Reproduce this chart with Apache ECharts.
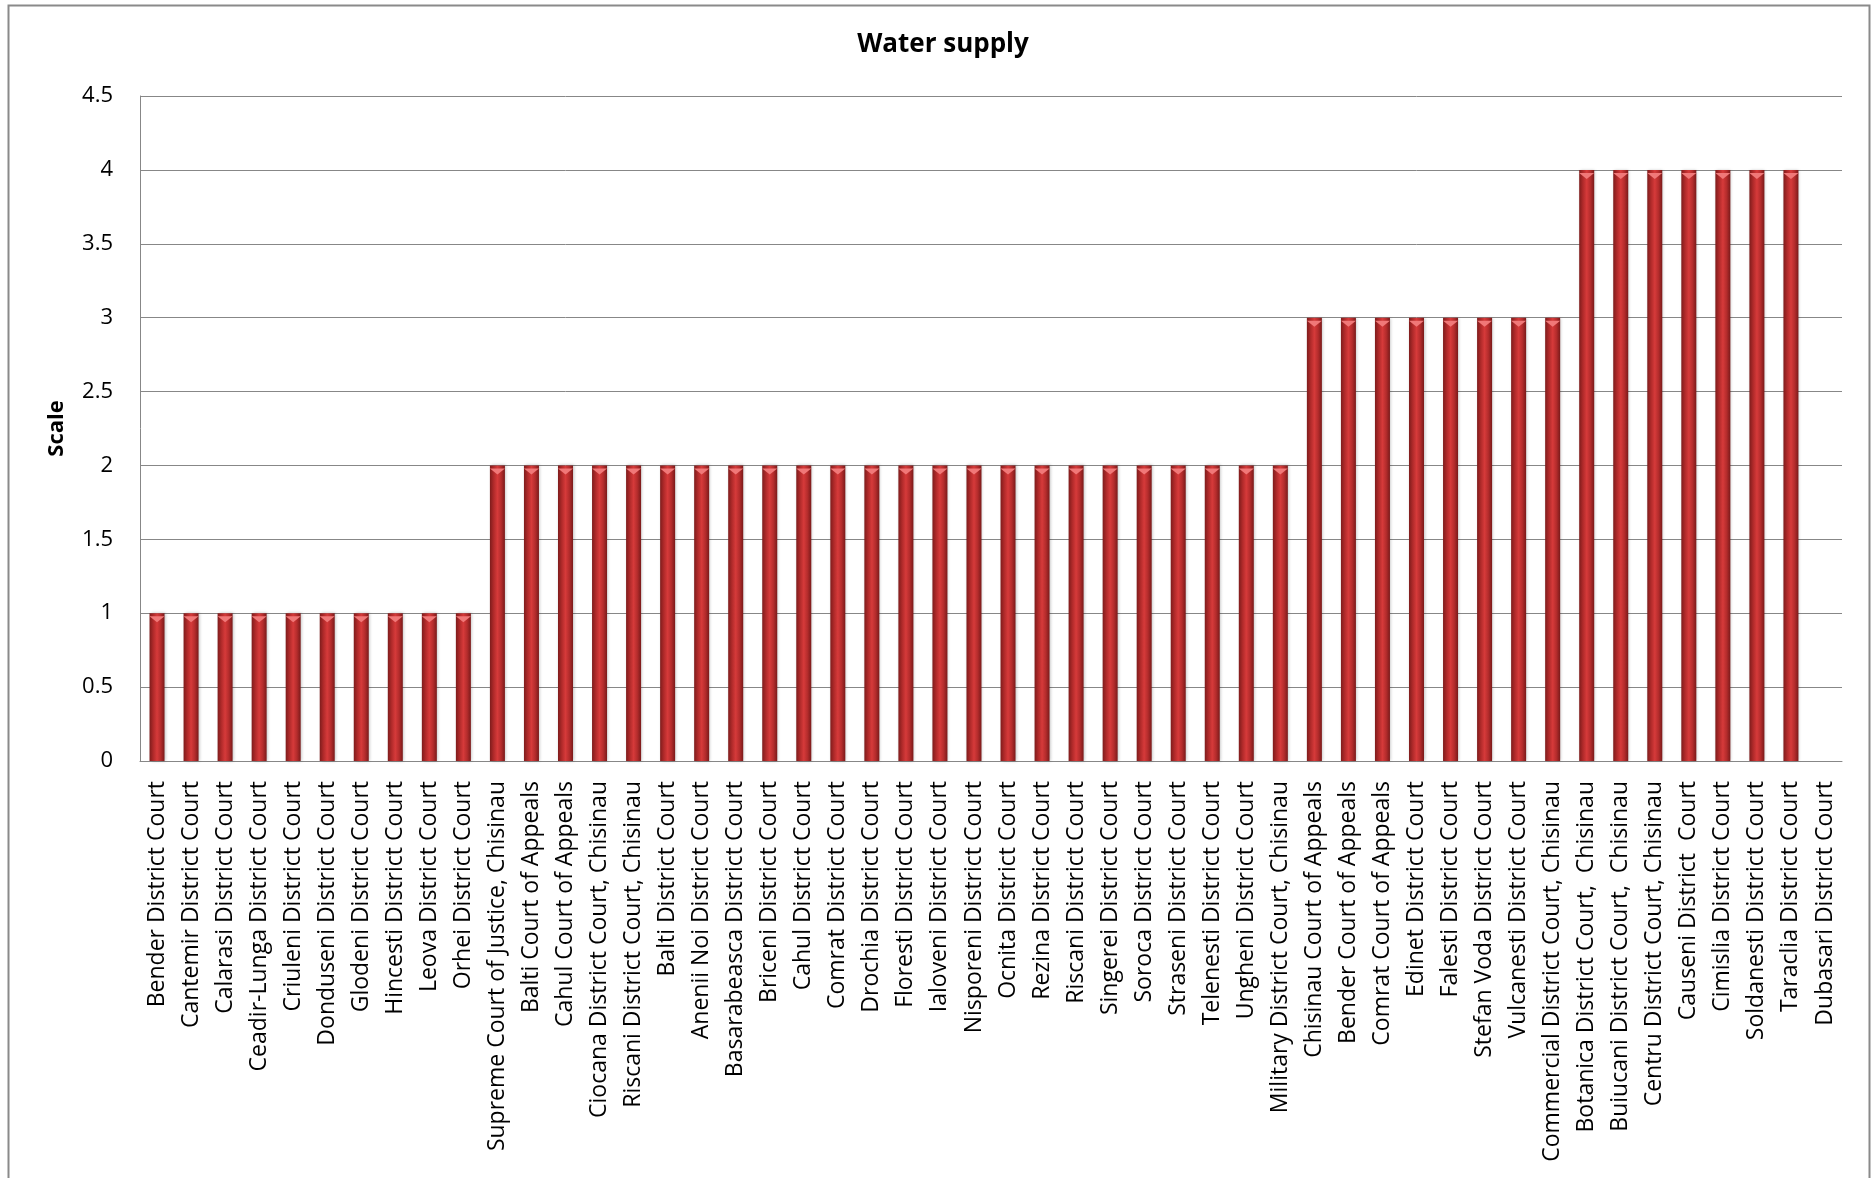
<!DOCTYPE html>
<html>
<head>
    <meta charset="UTF-8">
    <title>Water supply</title>
    <script src="https://cdn.jsdelivr.net/npm/echarts@6/dist/echarts.min.js"></script>
    <style>
        html, body { margin: 0; padding: 0; background: #fff; }
        #main { width: 1871px; height: 1178px; }
    </style>
</head>
<body>
    <div id="main"></div>
    <script type="text/javascript">
        // courts (x axis)
        var courts = [
            'Bender District Court', 'Cantemir District Court', 'Calarasi District Court',
            'Ceadir-Lunga District Court', 'Criuleni District Court', 'Donduseni District Court',
            'Glodeni District Court', 'Hincesti District Court', 'Leova District Court',
            'Orhei District Court', 'Supreme Court of Justice, Chisinau', 'Balti Court of Appeals',
            'Cahul Court of Appeals', 'Ciocana District Court, Chisinau', 'Riscani District Court, Chisinau',
            'Balti District Court', 'Anenii Noi District Court', 'Basarabeasca District Court',
            'Briceni District Court', 'Cahul District Court', 'Comrat District Court',
            'Drochia District Court', 'Floresti District Court', 'Ialoveni District Court',
            'Nisporeni District Court', 'Ocnita District Court', 'Rezina District Court',
            'Riscani District Court', 'Singerei District Court', 'Soroca District Court',
            'Straseni District Court', 'Telenesti District Court', 'Ungheni District Court',
            'Military District Court, Chisinau', 'Chisinau Court of Appeals', 'Bender Court of Appeals',
            'Comrat Court of Appeals', 'Edinet District Court', 'Falesti District Court',
            'Stefan Voda District Court', 'Vulcanesti District Court', 'Commercial District Court, Chisinau',
            'Botanica District Court,  Chisinau', 'Buiucani District Court,  Chisinau', 'Centru District Court, Chisinau',
            'Causeni District  Court', 'Cimislia District Court', 'Soldanesti District Court',
            'Taraclia District Court', 'Dubasari District Court'
        ];
        // scale values
        var scores = [
            1, 1, 1, 1, 1, 1, 1, 1, 1, 1,
            2, 2, 2, 2, 2, 2, 2, 2, 2, 2, 2, 2, 2, 2, 2, 2, 2, 2, 2, 2, 2, 2, 2, 2,
            3, 3, 3, 3, 3, 3, 3, 3,
            4, 4, 4, 4, 4, 4, 4,
            0
        ];
        var yTicks = { min: 0, max: 4.5, interval: 0.5 };

        var font = '"Open Sans", "Noto Sans", sans-serif';
        var myChart = echarts.init(document.getElementById('main'));

        var option = {
            animation: false,
            backgroundColor: '#fff',
            textStyle: { fontFamily: font },
            title: {
                text: 'Water supply',
                left: 938,
                top: 27,
                textAlign: 'center',
                textStyle: { fontSize: 26, fontWeight: 'bold', color: '#000', fontFamily: font }
            },
            graphic: [{
                type: 'rect',
                left: 6,
                top: 3,
                shape: { width: 1861, height: 1220 },
                style: { fill: 'none', stroke: '#8a8a8a', lineWidth: 2 },
                silent: true
            }],
            grid: {
                left: 140,
                right: 29,
                top: 96,
                bottom: 417
            },
            xAxis: {
                type: 'category',
                data: courts,
                axisLine: { lineStyle: { color: '#878787', width: 1 } },
                axisTick: { show: false },
                axisLabel: {
                    interval: 0,
                    rotate: 90,
                    margin: 20,
                    fontSize: 23,
                    color: '#000',
                    fontFamily: font
                }
            },
            yAxis: {
                type: 'value',
                min: yTicks.min,
                max: yTicks.max,
                interval: yTicks.interval,
                name: 'Scale',
                nameLocation: 'middle',
                nameGap: 72,
                nameTextStyle: { fontSize: 22, fontWeight: 'bold', color: '#000', fontFamily: font },
                axisLine: { show: true, lineStyle: { color: '#878787', width: 1 } },
                axisTick: { show: false },
                axisLabel: { margin: 27, fontSize: 22, color: '#000', fontFamily: font },
                splitLine: { lineStyle: { color: '#878787', width: 1 } }
            },
            series: [{
                name: 'Water supply',
                type: 'bar',
                data: scores,
                barWidth: 15,
                itemStyle: {
                    color: new echarts.graphic.LinearGradient(0, 0, 1, 0, [
                        { offset: 0, color: '#7e1c1c' },
                        { offset: 0.25, color: '#b02a2a' },
                        { offset: 0.5, color: '#d63a3a' },
                        { offset: 0.75, color: '#b42c2c' },
                        { offset: 1, color: '#7a1a1a' }
                    ]),
                    shadowColor: 'rgba(0,0,0,0.25)',
                    shadowBlur: 3,
                    shadowOffsetX: 1
                }
            }, {
                // pink cap on top of each bar
                name: 'cap',
                type: 'pictorialBar',
                data: scores.map(function (v) { return v > 0 ? v : null; }),
                symbol: 'path://M0,0 L10,0 L5,4 Z',
                symbolSize: [15, 6],
                symbolPosition: 'end',
                symbolOffset: [0, '50%'],
                z: 3,
                itemStyle: { color: '#f07878' },
                silent: true
            }]
        };

        myChart.setOption(option);
    </script>
</body>
</html>
